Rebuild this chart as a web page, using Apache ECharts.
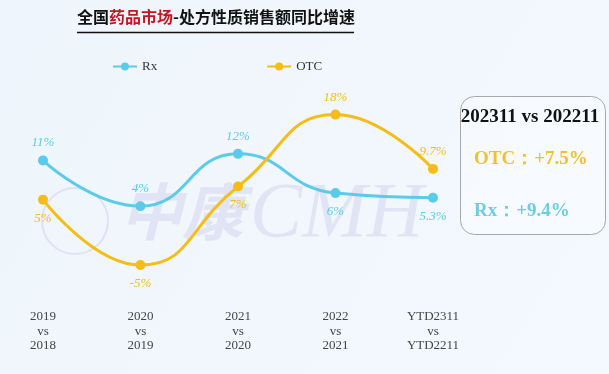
<!DOCTYPE html>
<html>
<head>
<meta charset="utf-8">
<script src="https://cdn.jsdelivr.net/npm/echarts@6/dist/echarts.min.js"></script>
<style>
html,body{margin:0;padding:0;background:#f1f7fd;}
#c{width:609px;height:374px;}
</style>
</head>
<body>
<div id="c"></div>
<script>
var categories = ['2019\nvs\n2018', '2020\nvs\n2019', '2021\nvs\n2020', '2022\nvs\n2021', 'YTD2311\nvs\nYTD2211'];
var rxValues = [11, 4, 12, 6, 5.3];
var otcValues = [5, -5, 7, 18, 9.7];
var rxLabelPos = ['top', 'top', 'top', 'bottom', 'bottom'];
var otcLabelPos = ['bottom', 'bottom', 'bottom', 'top', 'top'];
var titleMain = ['全国', '药品市场', '-处方性质销售额同比增速'];
var boxTitle = '202311 vs 202211';
var boxOtc = 'OTC：+7.5%';
var boxRx = 'Rx：+9.4%';

var RX = '#5ccbeb', OTC = '#f5bd16';
function mk(vals, pos) {
  return vals.map(function (v, i) {
    return { value: v, label: { position: pos[i], distance: pos[i] === 'top' ? 6 : 7 } };
  });
}
var chart = echarts.init(document.getElementById('c'));
chart.setOption({
  backgroundColor: {
    type: 'linear', x: 0, y: 0, x2: 1, y2: 1,
    colorStops: [{ offset: 0, color: '#eef5fc' }, { offset: 1, color: '#f4f9fe' }]
  },
  legend: {
    left: 107, top: 55, itemWidth: 24, itemHeight: 10, itemGap: 109,
    textStyle: { fontFamily: 'Liberation Serif', fontSize: 13, color: '#333' },
    data: ['Rx', 'OTC']
  },
  grid: { left: 43, right: 176, top: 68.8, bottom: 76.2 },
  xAxis: {
    type: 'category', boundaryGap: false, data: categories,
    axisLine: { show: false }, axisTick: { show: false }, splitLine: { show: false },
    axisLabel: { margin: 12, lineHeight: 14.3, fontFamily: 'Liberation Serif', fontSize: 13, color: '#444' }
  },
  yAxis: {
    type: 'value', min: -10, max: 25, show: false, splitLine: { show: false }
  },
  graphic: [
    { type: 'text', left: 77, top: 9, z: 10, style: {
        text: '{a|' + titleMain[0] + '}{b|' + titleMain[1] + '}{a|' + titleMain[2] + '}',
        rich: {
          a: { fontFamily: 'Noto Sans CJK SC', fontWeight: 'bold', fontSize: 16, fill: '#111' },
          b: { fontFamily: 'Noto Sans CJK SC', fontWeight: 'bold', fontSize: 16, fill: '#c5161d' }
        } } },
    { type: 'line', z: 10, shape: { x1: 77, y1: 32.5, x2: 354, y2: 32.5 }, style: { stroke: '#111', lineWidth: 1.5 } },
    { type: 'circle', z: 0, shape: { cx: 75, cy: 221, r: 33 }, style: { fill: 'none', stroke: '#dfe2f3', lineWidth: 2 } },
    { type: 'text', z: 0, left: 120, top: 180, style: { text: '中康', fontFamily: 'Noto Sans CJK SC', fontWeight: 'bold', fontStyle: 'italic', fontSize: 62, fill: '#e0e4f4' } },
    { type: 'text', z: 0, left: 250, top: 176, style: { text: 'CMH', fontFamily: 'Liberation Serif', fontStyle: 'italic', fontSize: 78, fill: '#e0e4f4' } },
    { type: 'rect', z: 5, shape: { x: 460.5, y: 96.5, width: 145, height: 138, r: 14 }, style: { fill: 'rgba(255,255,255,0.35)', stroke: '#a8a8a8', lineWidth: 1 } },
    { type: 'text', z: 6, x: 530, y: 117, style: { text: boxTitle, align: 'center', verticalAlign: 'middle', fontFamily: 'Liberation Serif', fontWeight: 'bold', fontSize: 19, fill: '#111' } },
    { type: 'text', z: 6, x: 474, y: 159.5, style: { text: boxOtc, align: 'left', verticalAlign: 'middle', fontFamily: 'Liberation Serif', fontWeight: 'bold', fontSize: 19, fill: '#f0c22e' } },
    { type: 'text', z: 6, x: 474, y: 211, style: { text: boxRx, align: 'left', verticalAlign: 'middle', fontFamily: 'Liberation Serif', fontWeight: 'bold', fontSize: 19, fill: '#6dcde4' } }
  ],
  series: [
    { name: 'Rx', type: 'line', smooth: 0.5, data: mk(rxValues, rxLabelPos), color: RX,
      symbol: 'circle', symbolSize: 10, lineStyle: { width: 3, color: RX }, itemStyle: { color: RX },
      label: { show: true, formatter: '{c}%', fontFamily: 'Liberation Serif', fontStyle: 'italic', fontSize: 13, color: RX } },
    { name: 'OTC', type: 'line', smooth: 0.5, data: mk(otcValues, otcLabelPos), color: OTC,
      symbol: 'circle', symbolSize: 10, lineStyle: { width: 3, color: OTC }, itemStyle: { color: OTC },
      label: { show: true, formatter: '{c}%', fontFamily: 'Liberation Serif', fontStyle: 'italic', fontSize: 13, color: OTC } }
  ]
});
</script>
</body>
</html>
